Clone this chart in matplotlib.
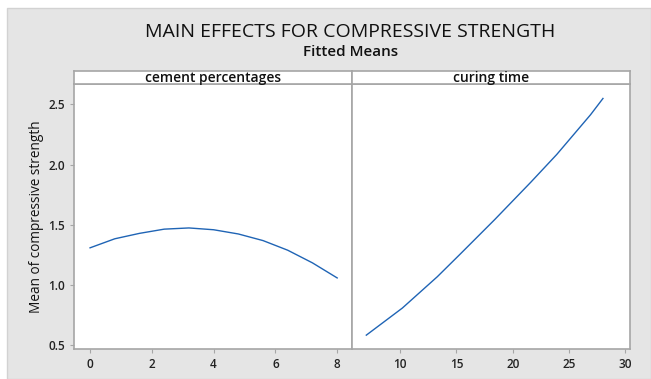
import matplotlib
matplotlib.use("Agg")
import matplotlib.pyplot as plt
from matplotlib.patches import Rectangle

plt.rcParams['font.family'] = ['Open Sans', 'DejaVu Sans']

# Fitted means for each factor
cement_pct = [0.0, 0.8, 1.6, 2.4, 3.2, 4.0, 4.8, 5.6, 6.4, 7.2, 8.0]
cement_mean = [1.31, 1.385, 1.43, 1.465, 1.475, 1.46, 1.425, 1.37, 1.29, 1.185, 1.06]

curing_days = [7.0, 10.2, 13.3, 15.3, 18.4, 21.6, 23.9, 26.9, 28.0]
curing_mean = [0.585, 0.81, 1.07, 1.255, 1.545, 1.855, 2.085, 2.415, 2.55]

panel_titles = ["cement percentages", "curing time"]
y_ticks = [0.5, 1.0, 1.5, 2.0, 2.5]
cement_ticks = [0, 2, 4, 6, 8]
curing_ticks = [10, 15, 20, 25, 30]

W, H = 651, 379
fig = plt.figure(figsize=(W / 100, H / 100), dpi=100)
fig.patch.set_facecolor("white")

# grey panel behind everything
fig.add_artist(Rectangle((7 / W, 0), 1 - 7 / W, 1 - 8 / H, transform=fig.transFigure,
                         facecolor="#e5e5e5", edgecolor="#d2d2d2", lw=1.0, zorder=0))

left, mid, right = 74 / W, 352 / W, 630 / W
bottom, top = 1 - 349 / H, 1 - 84 / H
strip_h = 13 / H

line_color = "#1f64b5"
frame_color = "#a6a6a6"

panels = [
    (left, mid - left, cement_pct, cement_mean, cement_ticks, (-0.52, 8.48)),
    (mid, right - mid, curing_days, curing_mean, curing_ticks, (5.73, 30.4)),
]

for i, (x0, w, xs, ys, xt, xlim) in enumerate(panels):
    ax = fig.add_axes([x0, bottom, w, top - bottom])
    ax.set_facecolor("white")
    ax.plot(xs, ys, color=line_color, lw=1.0)
    ax.set_xlim(*xlim)
    ax.set_ylim(0.47, 2.67)
    ax.set_xticks(xt)
    ax.set_yticks(y_ticks)
    ax.set_yticklabels([f"{v:.1f}" for v in y_ticks])
    for s in ax.spines.values():
        s.set_color(frame_color)
        s.set_linewidth(1.2)
    ax.tick_params(axis="both", colors=frame_color, length=3, width=0.8,
                   labelcolor="#222222", labelsize=8.5)
    for lab in ax.get_xticklabels() + ax.get_yticklabels():
        lab.set_fontweight("semibold")
    if i == 0:
        ax.set_ylabel("Mean of compressive strength", fontsize=9.8, color="#111111", labelpad=3)
    else:
        ax.tick_params(axis="y", left=False, labelleft=False)

    sx = fig.add_axes([x0, top, w, strip_h])
    sx.set_facecolor("white")
    sx.set_xticks([])
    sx.set_yticks([])
    for s in sx.spines.values():
        s.set_color(frame_color)
        s.set_linewidth(1.2)
    sx.text(0.5, 0.45, panel_titles[i], transform=sx.transAxes, ha="center", va="center",
            fontsize=10, fontweight="semibold", color="#111111")

fig.text(0.538, 1 - 32 / H, "MAIN EFFECTS FOR COMPRESSIVE STRENGTH", ha="center", va="center",
         fontsize=14, fontweight="medium", color="#111111")
fig.text(0.538, 1 - 52 / H, "Fitted Means", ha="center", va="center",
         fontsize=11, fontweight="semibold", color="#111111")

fig.savefig("out.png", dpi=100, facecolor=fig.get_facecolor())
